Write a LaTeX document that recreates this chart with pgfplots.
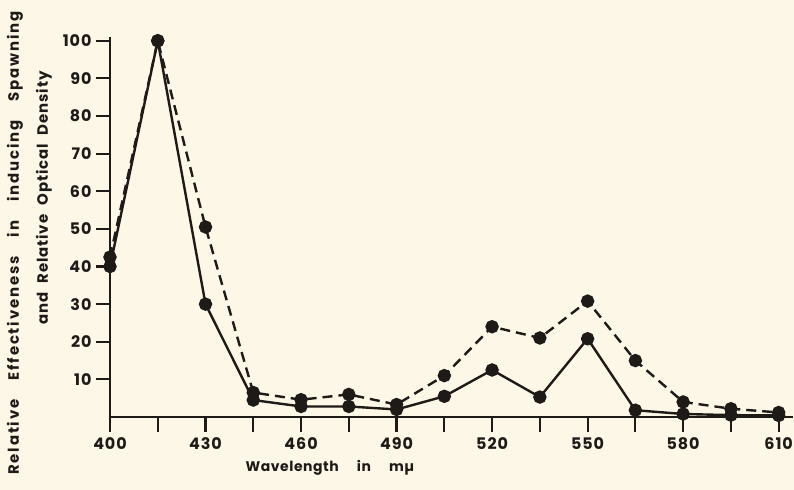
\documentclass[border=0pt]{standalone}
\usepackage{pgfplots}
\pgfplotsset{compat=1.18}
\usepackage{fontspec}
\setmainfont{Poppins}[LetterSpace=6]
\definecolor{bg}{HTML}{FDF7E7}
\definecolor{ink}{HTML}{1E1A18}
\begin{document}
\begin{tikzpicture}
\path[use as bounding box, fill=bg] (-110bp,-73bp) rectangle (684bp,417bp);
\begin{axis}[
  at={(0,0)}, anchor=south west,
  scale only axis, width=683bp, height=380bp,
  xmin=400, xmax=614.5, ymin=0, ymax=101,
  axis lines*=left,
  axis line style={-, line width=2.4bp, ink},
  xtick={400,415,...,610},
  xticklabels={400,,430,,460,,490,,520,,550,,580,,610},
  ytick={10,20,...,100},
  tick align=outside,
  xtick style={line width=2.2bp, draw=ink},
  ytick style={line width=2.2bp, draw=ink},
  major tick length=14bp,
  tick label style={font=\fontsize{16}{18}\selectfont\bfseries, text=ink},
  xticklabel style={yshift=-3bp},
  yticklabel style={xshift=-1bp},
  /pgf/number format/assume math mode=true,
  clip=false,
]
\addplot[ink, line width=2.4bp, mark=*, mark size=5.5bp, mark options={solid, fill=ink}]
coordinates {(400,40) (415,100) (430,30) (445,4.5) (460,2.8) (475,2.8) (490,2.0) (505,5.5) (520,12.5) (535,5.3) (550,20.8) (565,1.8) (580,0.8) (595,0.5) (610,0.4)};
\addplot[ink, line width=2.4bp, dash pattern=on 10bp off 6bp, mark=*, mark size=5.5bp, mark options={solid, fill=ink}]
coordinates {(400,42.5) (415,100) (430,50.5) (445,6.5) (460,4.6) (475,6.0) (490,3.3) (505,11) (520,24) (535,21) (550,30.8) (565,15) (580,4.0) (595,2.2) (610,1.2)};
\end{axis}
\foreach \i in {0,...,14} {
  \draw[ink, line width=2.2bp] ({\i*47.762bp},0bp) -- ({\i*47.762bp},-15bp);
}
\foreach \j in {1,...,10} {
  \draw[ink, line width=2.2bp] (0bp,{\j*37.624bp}) -- (-14bp,{\j*37.624bp});
}
\node[rotate=90, text=ink, font=\fontsize{15}{17}\selectfont\bfseries\addfontfeature{LetterSpace=12}] at (-95bp,174bp) {Relative\hspace{1.3em}Effectiveness\hspace{1.3em}in\hspace{1.3em}inducing\hspace{1.3em}Spawning};
\node[rotate=90, text=ink, font=\fontsize{15}{17}\selectfont\bfseries] at (-66bp,219bp) {and\hspace{0.6em}Relative\hspace{0.6em}Optical\hspace{0.6em}Density};
\node[text=ink, font=\fontsize{14}{16}\selectfont\bfseries\addfontfeature{LetterSpace=4}] at (220bp,-51bp) {Wavelength\hspace{1.3em}in\hspace{1.3em}mµ};
\end{tikzpicture}
\end{document}
